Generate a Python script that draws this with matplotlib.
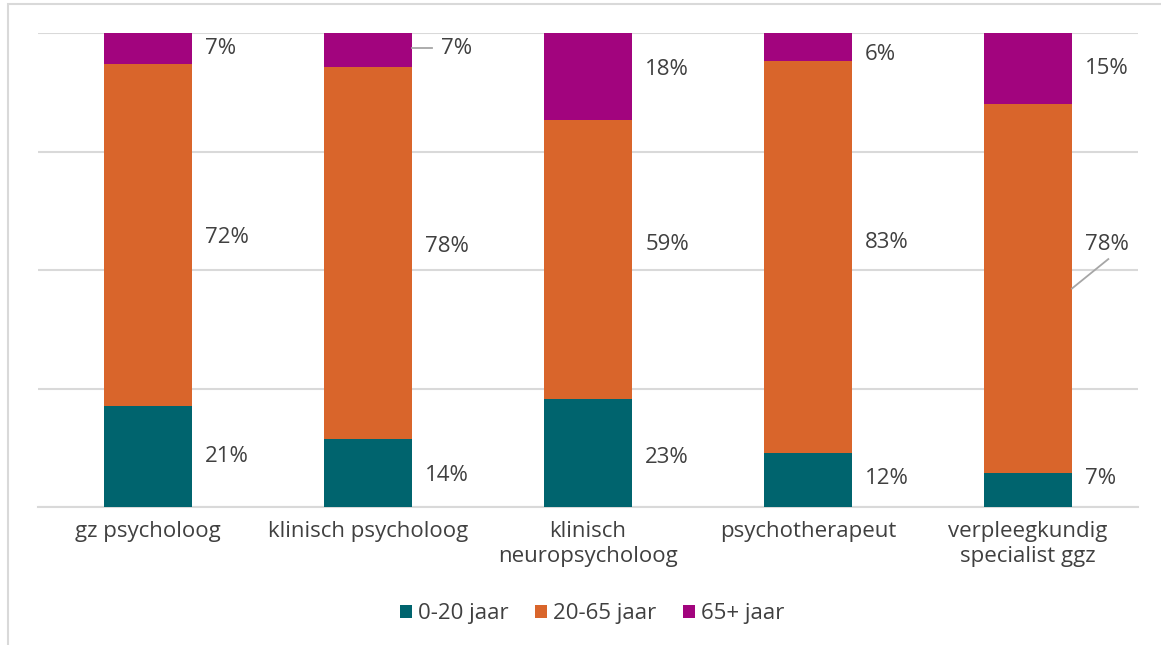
import matplotlib
matplotlib.use("Agg")
import matplotlib.pyplot as plt
from matplotlib.patches import Rectangle, Patch
import numpy as np

categories = ["gz psycholoog", "klinisch psycholoog", "klinisch\nneuropsycholoog",
              "psychotherapeut", "verpleegkundig\nspecialist ggz"]
series_names = ["0-20 jaar", "20-65 jaar", "65+ jaar"]
young = [21.3, 14.3, 22.8, 11.4, 7.2]
adult = [72.2, 78.5, 58.8, 82.7, 77.8]
senior = [6.5, 7.2, 18.4, 5.9, 15.0]
labels_young = ["21%", "14%", "23%", "12%", "7%"]
labels_adult = ["72%", "78%", "59%", "83%", "78%"]
labels_senior = ["7%", "7%", "18%", "6%", "15%"]

colors = ["#00646E", "#D9652B", "#A2047E"]
text_color = "#404040"
grid_color = "#D9D9D9"
FS = 16

plt.rcParams['font.family'] = ['Open Sans', 'DejaVu Sans']

fig = plt.figure(figsize=(11.61, 6.45), dpi=100)
ax = fig.add_axes([38/1161, 1-507/645, 1100/1161, 474/645])

# chart border
fig.patches.append(Rectangle((8/1161, -0.1), 1.2, 1 - 4/645 + 0.1, transform=fig.transFigure,
                             fill=False, edgecolor=grid_color, linewidth=1.5))

x = np.arange(len(categories))
w = 0.4
series = [young, adult, senior]
all_labels = [labels_young, labels_adult, labels_senior]
bottom = np.zeros(len(categories))
for vals, col, name in zip(series, colors, series_names):
    ax.bar(x, vals, w, bottom=bottom, color=col, label=name, zorder=3)
    bottom = bottom + np.array(vals)

# label layout: (series index, category index) -> (dy in data units, leader line)
label_dy = {(2, 1): (0.4, True), (2, 3): (-1.6, False), (0, 3): (0.4, False),
            (0, 4): (2.5, False), (1, 4): (9.2, True),
            (1, 0): (-0.6, False), (1, 1): (1.5, False), (1, 2): (3.2, False),
            (1, 3): (3.0, False), (0, 1): (-0.4, False), (0, 2): (-1.0, False),
            (2, 2): (1.6, False)}
bottom = np.zeros(len(categories))
for si, (vals, labs) in enumerate(zip(series, all_labels)):
    for ci in range(len(categories)):
        yc = bottom[ci] + vals[ci] / 2
        dy, leader = label_dy.get((si, ci), (0.0, False))
        tx = x[ci] + w/2 + 0.06
        if leader:
            if si == 2:
                ax.plot([x[ci] + w/2, x[ci] + w/2 + 0.09], [yc + dy, yc + dy],
                        color="#A6A6A6", lw=1.3, zorder=4)
                tx = x[ci] + w/2 + 0.13
            else:
                ax.plot([x[ci] + w/2, x[ci] + w/2 + 0.165], [yc, yc + 6.2],
                        color="#A6A6A6", lw=1.3, zorder=4)
        ax.text(tx, yc + dy, labs[ci], ha="left", va="center", fontsize=FS,
                color=text_color, zorder=5)
    bottom = bottom + np.array(vals)

ax.set_xlim(-0.5, len(categories) - 0.5)
ax.set_ylim(0, 100)
ax.set_yticks([0, 25, 50, 75, 100])
ax.yaxis.grid(True, color=grid_color, linewidth=1.5, zorder=0)
ax.set_yticklabels([])
ax.tick_params(axis="y", length=0)
ax.set_xticks(x)
ax.set_xticklabels(categories, fontsize=FS, color=text_color, linespacing=1.25)
ax.tick_params(axis="x", length=0, pad=10)
for s in ["top", "right", "left"]:
    ax.spines[s].set_visible(False)
ax.spines["bottom"].set_color(grid_color)
ax.spines["bottom"].set_linewidth(1.5)

handles = [Patch(facecolor=c, edgecolor="none") for c in colors]
fig.legend(handles, series_names, loc="center", bbox_to_anchor=(0.51, 1 - 614/645),
           ncol=3, frameon=False, fontsize=FS, labelcolor=text_color,
           handlelength=0.55, handleheight=0.55, handletextpad=0.25, columnspacing=1.2)

fig.savefig("out.png", dpi=100)
